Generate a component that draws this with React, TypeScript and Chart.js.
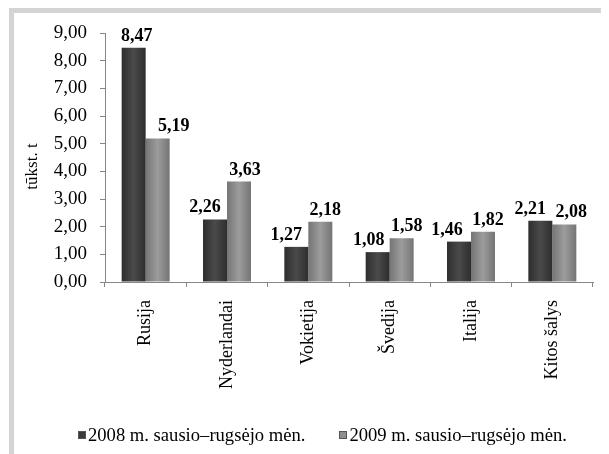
import React, { useEffect, useRef } from "react";
import { Chart, registerables } from "chart.js";

Chart.register(...registerables);

const categories = ["Rusija", "Nyderlandai", "Vokietija", "Švedija", "Italija", "Kitos šalys"];
const series2008 = [8.47, 2.26, 1.27, 1.08, 1.46, 2.21];
const series2009 = [5.19, 3.63, 2.18, 1.58, 1.82, 2.08];
const seriesNames = ["2008 m. sausio–rugsėjo mėn.", "2009 m. sausio–rugsėjo mėn."];
const yTitle = "tūkst. t";

// horizontal nudges of value labels (style only)
const labelNudge = [
  [3, -10, -10, -9, -12, -10],
  [16, 6, 5, 5, 5, 7],
];

const FONT = "'Liberation Serif', 'Times New Roman', serif";
const fmt = (v: number) => v.toFixed(2).replace(".", ",");

const seriesColors = ["#3a3a3a", "#8e8e8e"];

const valueLabels = {
  id: "valueLabels",
  afterDatasetsDraw(chart: any) {
    const ctx = chart.ctx;
    ctx.save();
    ctx.font = `bold 18px ${FONT}`;
    ctx.fillStyle = "#000";
    ctx.textAlign = "center";
    ctx.textBaseline = "alphabetic";
    chart.data.datasets.forEach((ds: any, di: number) => {
      const meta = chart.getDatasetMeta(di);
      meta.data.forEach((el: any, i: number) => {
        ctx.fillText(fmt(ds.data[i]), el.x + labelNudge[di][i], el.y - 7);
      });
    });
    ctx.restore();
  },
};

// draws the y-axis title a little below the axis centre, as in the reference
const yTitlePlugin = {
  id: "yTitlePlugin",
  afterDraw(chart: any) {
    const ys = chart.scales.y;
    const ctx = chart.ctx;
    ctx.save();
    ctx.font = `17px ${FONT}`;
    ctx.fillStyle = "#000";
    ctx.textAlign = "center";
    ctx.textBaseline = "middle";
    ctx.translate(19, (ys.top + ys.bottom) / 2 + 9);
    ctx.rotate(-Math.PI / 2);
    ctx.fillText(yTitle, 0, 0);
    ctx.restore();
  },
};

function barGradient(cols: [string, string], dsIndex: number) {
  return (c: any) => {
    const chart = c.chart;
    const xs = chart.scales && chart.scales.x;
    if (!xs || c.type !== "data" || !chart.chartArea) return cols[0];
    const catW = xs.width / categories.length;
    const w = (catW * 0.59) / 2;
    const center = xs.getPixelForValue(c.dataIndex);
    const left = dsIndex === 0 ? center - w : center;
    const g = chart.ctx.createLinearGradient(left, 0, left + w, 0);
    g.addColorStop(0, cols[0]);
    g.addColorStop(0.5, cols[1]);
    g.addColorStop(1, cols[0]);
    return g;
  };
}

export default function App() {
  const ref = useRef<HTMLCanvasElement | null>(null);
  useEffect(() => {
    if (!ref.current) return;
    const chart = new Chart(ref.current, {
      type: "bar",
      data: {
        labels: categories,
        datasets: [
          {
            label: seriesNames[0],
            data: series2008,
            backgroundColor: barGradient(["#2e2e2e", "#4a4a4a"], 0) as any,
            borderWidth: 0,
            categoryPercentage: 0.59,
            barPercentage: 1,
          },
          {
            label: seriesNames[1],
            data: series2009,
            backgroundColor: barGradient(["#757575", "#9c9c9c"], 1) as any,
            borderWidth: 0,
            categoryPercentage: 0.59,
            barPercentage: 1,
          },
        ],
      },
      options: {
        animation: false,
        responsive: false,
        layout: { padding: { top: 20, right: 15, bottom: 38, left: 0 } },
        plugins: {
          tooltip: { enabled: false },
          legend: { display: false },
        },
        scales: {
          x: {
            grid: {
              offset: true,
              drawOnChartArea: false,
              drawTicks: true,
              tickLength: 5,
              color: "#868686",
            },
            border: { display: true, color: "#868686" },
            ticks: {
              color: "#000",
              font: { family: FONT, size: 18 },
              minRotation: 90,
              maxRotation: 90,
              padding: 13,
              autoSkip: false,
            },
            afterFit: (s: any) => {
              s.height = 134;
              s.paddingLeft = 0;
              s.paddingRight = 0;
            },
          },
          y: {
            min: 0,
            max: 9,
            grid: {
              drawOnChartArea: false,
              drawTicks: true,
              tickLength: 5,
              color: "#868686",
            },
            border: { display: true, color: "#868686" },
            ticks: {
              stepSize: 1,
              color: "#000",
              padding: 13,
              font: { family: FONT, size: 19 },
              callback: (v: any) => fmt(Number(v)),
            },
            title: { display: false },
            afterFit: (s: any) => {
              s.width = 91;
              s.paddingTop = 0;
              s.paddingBottom = 0;
            },
          },
        },
      },
      plugins: [valueLabels, yTitlePlugin],
    });
    return () => chart.destroy();
  }, []);

  const box = (color: string) => ({
    display: "inline-block",
    width: 8,
    height: 8,
    boxSizing: "border-box" as const,
    background: color,
    border: "1px solid #555",
    marginRight: 2,
  });

  return (
    <div
      style={{
        position: "relative",
        marginLeft: 1,
        width: 600,
        height: 446,
        boxSizing: "border-box",
        borderLeft: "5px solid #d4d4d4",
        borderTop: "5px solid #d4d4d4",
        borderRight: "1px solid #e2e2e2",
        background: "#fff",
        overflow: "hidden",
      }}
    >
      <canvas ref={ref} width={594} height={441} style={{ display: "block", width: 594, height: 441 }} />
      <div
        style={{
          position: "absolute",
          left: 64,
          top: 411,
          height: 22,
          display: "flex",
          alignItems: "center",
          fontFamily: FONT,
          fontSize: 18.6,
          lineHeight: "22px",
          color: "#000",
          whiteSpace: "nowrap",
        }}
      >
        <span style={box(seriesColors[0])} />
        <span>{seriesNames[0]}</span>
        <span style={{ ...box(seriesColors[1]), marginLeft: 34 }} />
        <span>{seriesNames[1]}</span>
      </div>
    </div>
  );
}
